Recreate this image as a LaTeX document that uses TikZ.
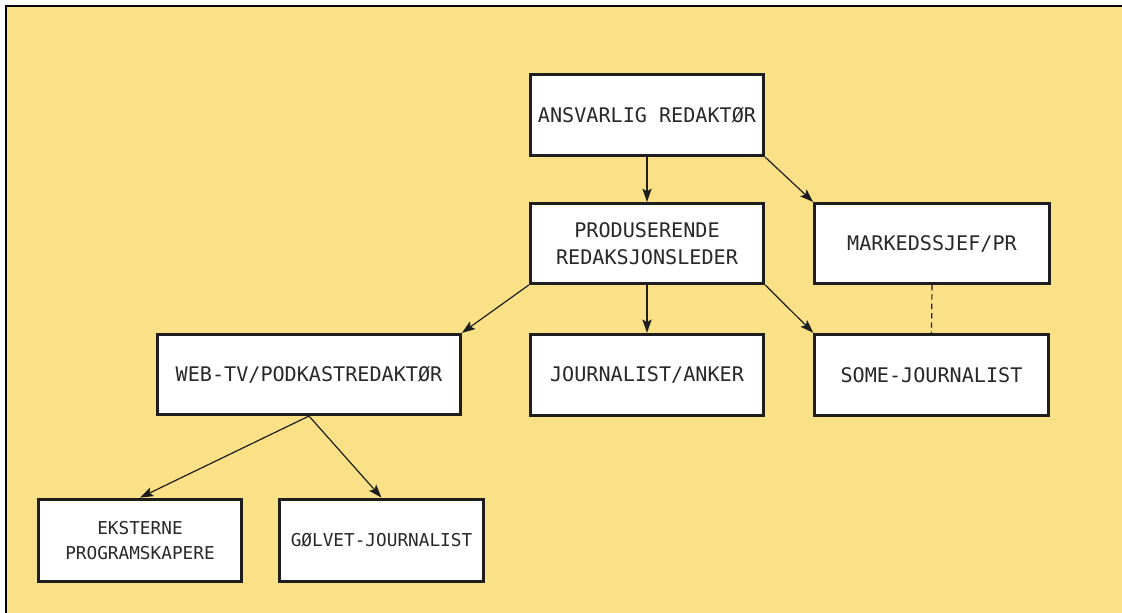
\documentclass[tikz,border=0pt]{standalone}
\usepackage{fontspec}
\setmonofont{DejaVu Sans Mono}
\usetikzlibrary{arrows.meta}
\definecolor{bgyellow}{RGB}{250,225,135}
\definecolor{inkc}{RGB}{30,30,30}
\definecolor{textc}{RGB}{40,40,40}
\tikzset{
  orgbox/.style={draw=inkc, line width=2.3pt, fill=white, align=center,
    font=\ttfamily\fontsize{15.1pt}{20pt}\selectfont, text=textc, inner sep=0pt},
  smallbox/.style={orgbox, font=\ttfamily\fontsize{13.3pt}{19pt}\selectfont},
  conn/.style={draw=inkc, line width=0.9pt, -{Stealth[length=10pt,width=7pt,inset=2pt]}},
  dashconn/.style={draw=inkc, line width=0.9pt, dash pattern=on 4pt off 3pt}
}
\begin{document}
\begin{tikzpicture}[x=0.75pt,y=-0.75pt]
\useasboundingbox (0,0) rectangle (1122,613);
\fill[white] (0,0) rectangle (1122,613);
\fill[bgyellow] (6,6) rectangle (1122,613);
\draw[black, line width=1.6pt] (6,613) -- (6,6) -- (1122,6);

\node[orgbox, minimum width=175pt, minimum height=61pt] (ans) at (647,115) {ANSVARLIG REDAKTØR};
\node[orgbox, minimum width=175pt, minimum height=60pt] (prod) at (647,243.5) {PRODUSERENDE\\REDAKSJONSLEDER};
\node[orgbox, minimum width=176pt, minimum height=60pt] (mark) at (932,243.5) {MARKEDSSJEF/PR};
\node[orgbox, minimum width=175pt, minimum height=61pt] (some) at (931.5,375) {SOME-JOURNALIST};
\node[orgbox, minimum width=227pt, minimum height=60pt] (web) at (309,374.5) {WEB-TV/PODKASTREDAKTØR};
\node[orgbox, minimum width=175pt, minimum height=61pt] (jour) at (647,375) {JOURNALIST/ANKER};
\node[smallbox, minimum width=152pt, minimum height=62pt] (ekst) at (140,540.5) {EKSTERNE\\PROGRAMSKAPERE};
\node[smallbox, minimum width=153pt, minimum height=62pt] (golv) at (381.5,540.5) {GØLVET-JOURNALIST};

\draw[conn] (ans.south) -- (prod.north);
\draw[conn] (ans.south east) -- (mark.north west);
\draw[conn] (prod.south west) -- (web.north east);
\draw[conn] (prod.south) -- (jour.north);
\draw[conn] (prod.south east) -- (some.north west);
\draw[dashconn] (mark.south) -- (some.north);
\draw[conn] (web.south) -- (ekst.north);
\draw[conn] (web.south) -- (golv.north);
\end{tikzpicture}
\end{document}
